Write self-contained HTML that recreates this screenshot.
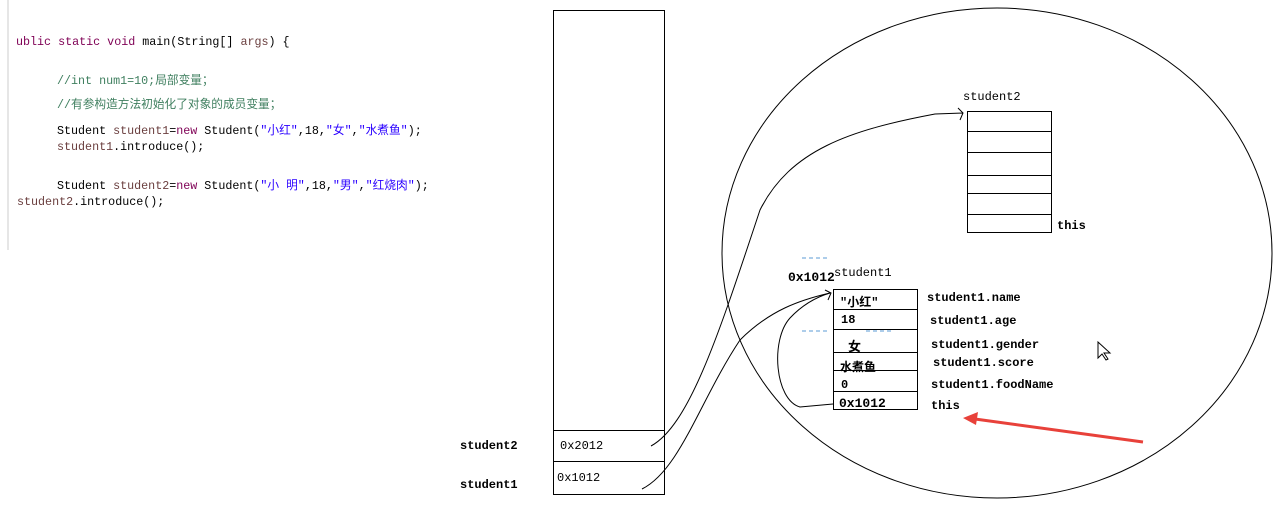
<!DOCTYPE html>
<html><head><meta charset="utf-8"><style>
body{margin:0;width:1278px;height:505px;background:#fff;overflow:hidden;position:relative}
.c{position:absolute;font-family:"Liberation Mono","Noto Sans CJK SC",monospace;font-size:11.7px;white-space:pre;color:#000}
.k{color:#7f0055}.g{color:#3f7f5f}.s{color:#2a00ff}.v{color:#6a3e3e}
</style></head><body>
<div class="c" style="left:16px;top:35px"><span class="k">ublic static void</span> main(String[] <span class="v">args</span>) {</div>
<div class="c g" style="left:57px;top:71px">//int num1=10;局部变量；</div>
<div class="c g" style="left:57px;top:95px">//有参构造方法初始化了对象的成员变量；</div>
<div class="c" style="left:57px;top:121px">Student <span class="v">student1</span>=<span class="k">new</span> Student(<span class="s">"小红"</span>,18,<span class="s">"女"</span>,<span class="s">"水煮鱼"</span>);</div>
<div class="c" style="left:57px;top:140px"><span class="v">student1</span>.introduce();</div>
<div class="c" style="left:57px;top:176px">Student <span class="v">student2</span>=<span class="k">new</span> Student(<span class="s">"小 明"</span>,18,<span class="s">"男"</span>,<span class="s">"红烧肉"</span>);</div>
<div class="c" style="left:17px;top:195px"><span class="v">student2</span>.introduce();</div>
<svg width="1278" height="505" style="position:absolute;left:0;top:0" font-family="Liberation Mono, Noto Sans CJK SC, monospace" font-size="12" font-weight="bold">
<line x1="8" y1="0" x2="8" y2="250" stroke="#ccc"/>
<rect x="553.5" y="10.5" width="111" height="484" fill="none" stroke="#000"/>
<line x1="553" y1="430.5" x2="665" y2="430.5" stroke="#000"/>
<line x1="553" y1="461.5" x2="665" y2="461.5" stroke="#000"/>
<text x="560" y="449" font-weight="normal">0x2012</text>
<text x="557" y="481" font-weight="normal">0x1012</text>
<text x="460" y="449">student2</text>
<text x="460" y="488">student1</text>
<ellipse cx="997" cy="253" rx="275" ry="245" fill="none" stroke="#000"/>
<g fill="none" stroke="#000">
<rect x="967.5" y="111.5" width="84" height="121"/>
<path d="M967 131.5H1052M967 152.5H1052M967 175.5H1052M967 193.5H1052M967 214.5H1052"/>
<rect x="833.5" y="289.5" width="84" height="120"/>
<path d="M833 309.5H918M833 329.5H918M833 352.5H918M833 370.5H918M833 391.5H918"/>
<path d="M651 446C690 425 720 330 760 210C790 150 850 130 935 114L963 113M958 108L963 113L960 120"/>
<path d="M642 489C680 470 700 400 740 340C770 310 800 300 830 293M825 290L831 293L828 300"/>
<path d="M833 404L800 407C775 400 770 340 790 318C805 302 820 296 830 293"/>
</g>
<path d="M802 258H830M802 331H830M866 331H894" stroke="#5b9bd5" stroke-dasharray="4,3"/>
<text x="963" y="100" font-weight="normal" font-size="12">student2</text>
<text x="1057" y="229">this</text>
<text x="788" y="281" font-size="13">0x1012</text>
<text x="834" y="276" font-weight="normal">student1</text>
<text x="840" y="306">"小红"</text>
<text x="841" y="323">18</text>
<text x="848" y="351" font-size="13">女</text>
<text x="840" y="371">水煮鱼</text>
<text x="841" y="388">0</text>
<text x="839" y="407" font-size="13">0x1012</text>
<text x="927" y="301">student1.name</text>
<text x="930" y="324">student1.age</text>
<text x="931" y="348">student1.gender</text>
<text x="933" y="366">student1.score</text>
<text x="931" y="388">student1.foodName</text>
<text x="931" y="409">this</text>
<path d="M1143 442L975 419" stroke="#e8413a" stroke-width="3"/>
<path d="M963 418L978 412L976 425Z" fill="#e8413a"/>
<path d="M1098 342V358L1102 354L1106 360L1108 359L1104 353H1110Z" fill="#fff" stroke="#000"/>
</svg>
</body></html>
